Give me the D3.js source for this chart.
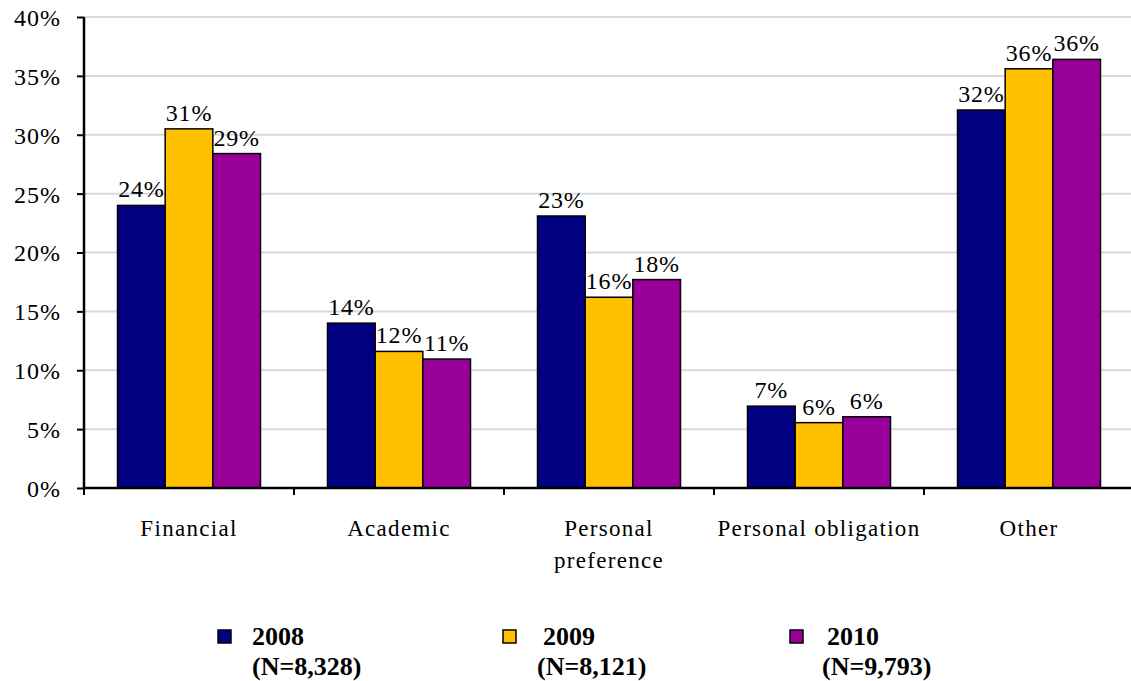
<!DOCTYPE html>
<html>
<head>
<meta charset="utf-8">
<script src="https://cdn.jsdelivr.net/npm/d3@7"></script>
<style>
  body { margin: 0; background: #fff; }
</style>
</head>
<body>
<div id="chart"></div>
<script>
const categories = [["Financial"], ["Academic"], ["Personal", "preference"], ["Personal obligation"], ["Other"]]
const years = ["2008", "2009", "2010"]
const sampleSizes = ["(N=8,328)", "(N=8,121)", "(N=9,793)"]
const values2008 = [24.0, 14.0, 23.1, 6.95, 32.1]
const values2009 = [30.5, 11.6, 16.2, 5.55, 35.6]
const values2010 = [28.4, 10.95, 17.7, 6.05, 36.4]
const labels2008 = ["24%", "14%", "23%", "7%", "32%"]
const labels2009 = ["31%", "12%", "16%", "6%", "36%"]
const labels2010 = ["29%", "11%", "18%", "6%", "36%"]
const yTicks = [0, 5, 10, 15, 20, 25, 30, 35, 40]
const colors = ["#000080", "#FFC000", "#990099"]

const FONT = "'Liberation Serif', 'Times New Roman', serif"
const width = 1131, height = 681
const margin = { left: 84, top: 17, bottom: 488 }

const series = [values2008, values2009, values2010]
const seriesLabels = [labels2008, labels2009, labels2010]
const catNames = categories.map(c => c.join(" "))

const svg = d3.select("#chart").append("svg")
    .attr("width", width)
    .attr("height", height)
    .style("font-family", FONT)

const x0 = d3.scaleBand().domain(catNames).range([margin.left, margin.left + 1050]).padding(0)
const x1 = d3.scaleBand().domain(years).range([33.5, 176.5]).padding(0)
const y = d3.scaleLinear().domain([0, 40]).range([margin.bottom, margin.top])

// gridlines
svg.append("g")
    .selectAll("line")
    .data(yTicks.filter(t => t > 0))
    .enter().append("line")
    .attr("x1", margin.left)
    .attr("x2", width)
    .attr("y1", d => y(d))
    .attr("y2", d => y(d))
    .attr("stroke", "#d9d9d9")
    .attr("stroke-width", 2)

// bars
const groups = svg.append("g")
    .selectAll("g")
    .data(catNames)
    .enter().append("g")
    .attr("transform", d => `translate(${x0(d)},0)`)

const rows = (d, i) => years.map((yr, j) => ({ yr, v: series[j][i], lab: seriesLabels[j][i], j }))

groups.selectAll("rect")
    .data(rows)
    .enter().append("rect")
    .attr("x", d => x1(d.yr))
    .attr("width", x1.bandwidth())
    .attr("y", d => y(d.v))
    .attr("height", d => y(0) - y(d.v))
    .attr("fill", d => colors[d.j])
    .attr("stroke", "#000")
    .attr("stroke-width", 1.5)

groups.selectAll("text.val")
    .data(rows)
    .enter().append("text")
    .attr("class", "val")
    .attr("x", d => x1(d.yr) + x1.bandwidth() / 2)
    .attr("y", d => y(d.v) - 8)
    .attr("text-anchor", "middle")
    .style("font-family", FONT)
    .style("font-size", "24px")
    .style("letter-spacing", "0.8px")
    .text(d => d.lab)

// y axis
const yAxis = svg.append("g")
    .attr("transform", `translate(${margin.left},0)`)
    .call(d3.axisLeft(y).tickValues(yTicks).tickSize(7).tickPadding(5).tickFormat(d => d + "%"))
yAxis.attr("font-family", null)
yAxis.select(".domain").attr("stroke", "#000").attr("stroke-width", 2.5).attr("d", `M0,${margin.top}V${margin.bottom}`)
yAxis.selectAll(".tick line").attr("stroke-width", 2)
yAxis.selectAll(".tick text")
    .style("font-size", "24px")
    .style("font-family", FONT)
    .style("letter-spacing", "1px")
    .attr("fill", "#000")
    .attr("dy", "0.35em")
    .attr("x", -23)

// x axis
svg.append("line")
    .attr("x1", margin.left).attr("x2", width)
    .attr("y1", y(0)).attr("y2", y(0))
    .attr("stroke", "#000").attr("stroke-width", 2.5)

svg.append("g")
    .selectAll("line")
    .data(d3.range(catNames.length + 1))
    .enter().append("line")
    .attr("x1", i => margin.left + i * x0.bandwidth())
    .attr("x2", i => margin.left + i * x0.bandwidth())
    .attr("y1", y(0))
    .attr("y2", y(0) + 7)
    .attr("stroke", "#000")
    .attr("stroke-width", 2)

const catLabels = svg.append("g")
    .selectAll("text")
    .data(categories)
    .enter().append("text")
    .attr("x", (d, i) => x0(catNames[i]) + x0.bandwidth() / 2)
    .attr("y", 536)
    .attr("text-anchor", "middle")
    .style("font-family", FONT)
    .style("font-size", "23px")
    .style("letter-spacing", "1.3px")

catLabels.selectAll("tspan")
    .data(d => d)
    .enter().append("tspan")
    .attr("x", function () { return d3.select(this.parentNode).attr("x") })
    .attr("dy", (d, i) => i === 0 ? 0 : 32)
    .text(d => d)

// legend
const legendX = [218, 503, 790]
const yearOffset = [34, 40, 37]
const nOffset = [34, 34, 32]
const legend = svg.append("g")
    .selectAll("g")
    .data(years)
    .enter().append("g")
    .attr("transform", (d, i) => `translate(${legendX[i]},0)`)

legend.append("rect")
    .attr("x", 0).attr("y", 630)
    .attr("width", 13).attr("height", 13)
    .attr("fill", (d, i) => colors[i])
    .attr("stroke", "#000")
    .attr("stroke-width", 1.5)

legend.append("text")
    .attr("x", (d, i) => yearOffset[i])
    .attr("y", 645)
    .style("font-family", FONT)
    .style("font-size", "26px")
    .style("font-weight", "bold")
    .text(d => d)

legend.append("text")
    .attr("x", (d, i) => nOffset[i])
    .attr("y", 675)
    .style("font-family", FONT)
    .style("font-size", "26px")
    .style("font-weight", "bold")
    .text((d, i) => sampleSizes[i])
</script>
</body>
</html>
